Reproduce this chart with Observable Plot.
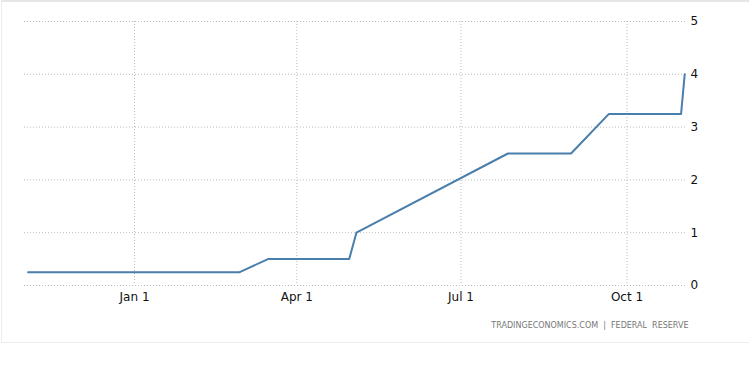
<!DOCTYPE html>
<html>
<head>
<meta charset="utf-8">
<script src="https://cdn.jsdelivr.net/npm/d3@7"></script>
<script src="https://cdn.jsdelivr.net/npm/@observablehq/plot@0.6"></script>
<style>
  html, body { margin: 0; padding: 0; background: #fff; }
  #wrap { position: relative; width: 749px; height: 372px; }
  #border { position: absolute; left: 1px; top: 0px; width: 760px; height: 343px;
            border-left: 1px solid #ececec; border-top: 2px solid #e6e6e6; border-bottom: 1px solid #ececec; box-sizing: border-box; }
  svg { position: absolute; left: 0; top: 0; }
</style>
</head>
<body>
<div id="wrap"><div id="border"></div></div>
<script>
// Fed funds rate (%)
const dates = ["2021-11-03", "2022-02-28", "2022-03-16", "2022-04-30", "2022-05-04",
               "2022-07-27", "2022-08-31", "2022-09-21", "2022-10-31", "2022-11-02"];
const rates = [0.25, 0.25, 0.5, 0.5, 1.0, 2.5, 2.5, 3.25, 3.25, 4.0];
const xTicks = ["2022-01-01", "2022-04-01", "2022-07-01", "2022-10-01"];
const xTickLabels = ["Jan 1", "Apr 1", "Jul 1", "Oct 1"];
const yTicks = [0, 1, 2, 3, 4, 5];
const xDomain = ["2021-11-01", "2022-11-03"];
const source = "TRADINGECONOMICS.COM  |  FEDERAL  RESERVE";

const data = dates.map((d, i) => ({date: new Date(d + "T00:00:00Z"), rate: rates[i]}));
const xt = xTicks.map(d => new Date(d + "T00:00:00Z"));

const chart = Plot.plot({
  width: 749,
  height: 372,
  marginLeft: 24,
  marginRight: 63,
  marginTop: 21,
  marginBottom: 87,
  style: {fontFamily: "'DejaVu Sans', sans-serif", fontSize: "11px", background: "transparent", color: "#111"},
  x: {type: "utc", domain: xDomain.map(d => new Date(d + "T00:00:00Z"))},
  y: {domain: [0, 5]},
  marks: [
    Plot.gridY(yTicks, {stroke: "#bbb", strokeOpacity: 1, strokeDasharray: "1,2"}),
    Plot.gridX(xt, {stroke: "#bbb", strokeOpacity: 1, strokeDasharray: "1,2"}),
    Plot.axisY(yTicks, {anchor: "right", tickSize: 0, tickPadding: 4, fontSize: 12, fill: "#111",
                        tickFormat: d => String(d), label: null}),
    Plot.axisX(xt, {anchor: "bottom", tickSize: 0, tickPadding: 7, fontSize: 12, fill: "#111", label: null,
                    tickFormat: (d) => xTickLabels[xt.findIndex(t => +t === +d)]}),
    Plot.line(data, {x: "date", y: "rate", stroke: "#4a7eab", strokeWidth: 2, curve: "linear"}),
    Plot.text([source], {frameAnchor: "bottom-right", dx: 2, dy: 42, text: d => d,
                          fill: "#777", fontSize: 8, textAnchor: "end"})
  ]
});
document.getElementById("wrap").appendChild(chart);
</script>
</body>
</html>
